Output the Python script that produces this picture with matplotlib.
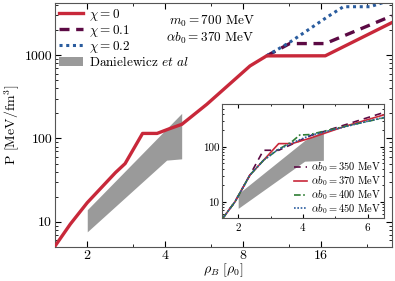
#
# 状態方程式 P(rho_B) のプロット (log-log) と挿入図
#
import matplotlib
matplotlib.use('Agg')
import matplotlib.pyplot as plt
from matplotlib.ticker import FixedLocator, FixedFormatter, NullFormatter, LogLocator
from matplotlib.patches import Patch
from matplotlib.lines import Line2D

plt.rcParams['font.family'] = 'serif'
plt.rcParams['font.serif'] = ['cmr10', 'DejaVu Serif']
plt.rcParams['mathtext.fontset'] = 'cm'
plt.rcParams['axes.formatter.use_mathtext'] = True

#
# データ
#
rho_chi0 = [1.5, 1.72, 2.0, 2.57, 2.8, 3.27, 3.72, 4.1, 4.64, 5.79, 8.5, 9.85, 16.6, 30.0]
P_chi0 = [5.1, 9.4, 17, 39, 50, 115, 115, 129, 148, 257, 741, 978, 980, 2450]
rho_chi01 = [9.85, 12.1, 16.6, 30.0]
P_chi01 = [978, 1374, 1374, 2950]
rho_chi02 = [9.85, 12.0, 14.0, 17.0, 19.5, 24.7, 30.0]
P_chi02 = [978, 1400, 1930, 2900, 3800, 3800, 4600]

band_rho = [2.0, 4.05, 4.63]
band_lo = [7.6, 55, 57]
band_hi = [14, 131, 200]

# 挿入図 (alpha b0 依存性)
rho_350 = [1.5, 1.9, 2.36, 2.78, 3.25, 3.66, 4.23, 5.27, 6.5]
P_350 = [4.8, 10, 30.6, 87, 87, 112, 160, 250, 425]
rho_370 = [1.5, 1.9, 2.36, 2.78, 3.25, 3.66, 4.23, 5.27, 6.5]
P_370 = [4.8, 10, 30.6, 57, 115, 115, 145, 235, 385]
rho_400 = [1.5, 1.9, 2.36, 2.78, 3.2, 3.66, 3.9, 4.2, 5.27, 6.5]
P_400 = [4.8, 10, 30.6, 57, 87, 125, 165, 168, 235, 340]
rho_450 = [1.5, 1.9, 2.36, 2.78, 3.2, 3.66, 4.23, 5.27, 5.9, 6.5]
P_450 = [4.8, 10, 30.6, 57, 87, 118, 163, 231, 285, 345]

xticks_main = [2, 4, 8, 16]
xminor_main = [3, 6, 12, 24]
yticks_main = [10, 100, 1000]

red = '#c8283a'
purple = '#5c0a44'
blue = '#2a5c9e'
green = '#2e7d32'
grey = '#9a9a9a'

fig = plt.figure(figsize=(3.95, 2.81), dpi=100)
ax = fig.add_axes([0.139, 0.121, 0.853, 0.868])

ax.fill_between(band_rho, band_lo, band_hi, color=grey, lw=0)
ax.plot(rho_chi0, P_chi0, color=red, lw=2.4, zorder=3)
ax.plot(rho_chi01, P_chi01, color=purple, lw=2.4, ls=(0, (3, 2)), zorder=2)
ax.plot(rho_chi02, P_chi02, color=blue, lw=2.2, ls=(0, (1, 1.2)), zorder=2)

ax.set_xscale('log', base=2)
ax.set_yscale('log')
ax.set_xlim(1.5, 30)
ax.set_ylim(5, 4200)
ax.xaxis.set_major_locator(FixedLocator(xticks_main))
ax.xaxis.set_major_formatter(FixedFormatter([str(v) for v in xticks_main]))
ax.xaxis.set_minor_locator(FixedLocator(xminor_main))
ax.xaxis.set_minor_formatter(NullFormatter())
ax.yaxis.set_major_locator(FixedLocator(yticks_main))
ax.yaxis.set_major_formatter(FixedFormatter([str(v) for v in yticks_main]))
ax.yaxis.set_minor_locator(LogLocator(base=10, subs=range(2, 10)))
ax.yaxis.set_minor_formatter(NullFormatter())
ax.tick_params(which='both', direction='in', top=True, right=True, labelsize=10, pad=2)
ax.tick_params(which='major', length=4)
ax.tick_params(which='minor', length=2)
for s in ax.spines.values():
    s.set_color('#555555')

ax.set_xlabel(r'$\rho_B\ [\rho_0]$', fontsize=10, labelpad=0)
ax.set_ylabel(r'P [MeV/fm$^3$]', fontsize=10, labelpad=2)

handles = [Line2D([], [], color=red, lw=2.4),
           Line2D([], [], color=purple, lw=2.4, ls=(0, (3, 2))),
           Line2D([], [], color=blue, lw=2.2, ls=(0, (1, 1.2))),
           Patch(color=grey, lw=0)]
labels = [r'$\chi = 0$', r'$\chi = 0.1$', r'$\chi = 0.2$', r'Danielewicz $et\ al$']
ax.legend(handles, labels, loc='upper left', frameon=False, fontsize=9.5,
          handlelength=1.8, borderaxespad=0.1, labelspacing=0.0, handletextpad=0.5,
          borderpad=0.2)

ax.text(0.34, 0.955, r'$m_0 = 700$ MeV', transform=ax.transAxes, ha='left', va='top', fontsize=9.5)
ax.text(0.33, 0.885, r'$\alpha b_0 = 370$ MeV', transform=ax.transAxes, ha='left', va='top', fontsize=9.5)

#
# 挿入図
#
ins = fig.add_axes([0.562, 0.223, 0.410, 0.406])
ins.fill_between(band_rho, band_lo, band_hi, color=grey, lw=0)
ins.plot(rho_350, P_350, color=purple, lw=1.2, ls=(0, (4, 3)), label=r'$\alpha b_0 = 350$ MeV')
ins.plot(rho_370, P_370, color=red, lw=1.2, label=r'$\alpha b_0 = 370$ MeV')
ins.plot(rho_400, P_400, color=green, lw=1.2, ls=(0, (4, 1.5, 1, 1.5)), label=r'$\alpha b_0 = 400$ MeV')
ins.plot(rho_450, P_450, color=blue, lw=1.2, ls=(0, (1, 1)), label=r'$\alpha b_0 = 450$ MeV')
ins.set_yscale('log')
ins.set_xlim(1.5, 6.5)
ins.set_ylim(5, 600)
ins.set_xticks([2, 4, 6])
ins.set_xticks([3, 5], minor=True)
ins.yaxis.set_major_locator(FixedLocator([10, 100]))
ins.yaxis.set_major_formatter(FixedFormatter(['10', '100']))
ins.yaxis.set_minor_locator(LogLocator(base=10, subs=range(2, 10)))
ins.yaxis.set_minor_formatter(NullFormatter())
ins.tick_params(which='both', direction='in', top=True, right=True, labelsize=8, pad=2)
ins.tick_params(which='major', length=3)
ins.tick_params(which='minor', length=1.5)
for s in ins.spines.values():
    s.set_color('#555555')
ins.legend(loc='lower right', frameon=False, fontsize=7.5, handlelength=1.3,
           labelspacing=0.0, borderaxespad=0.1, handletextpad=0.4, borderpad=0.15)

fig.savefig('out.png', dpi=100)
